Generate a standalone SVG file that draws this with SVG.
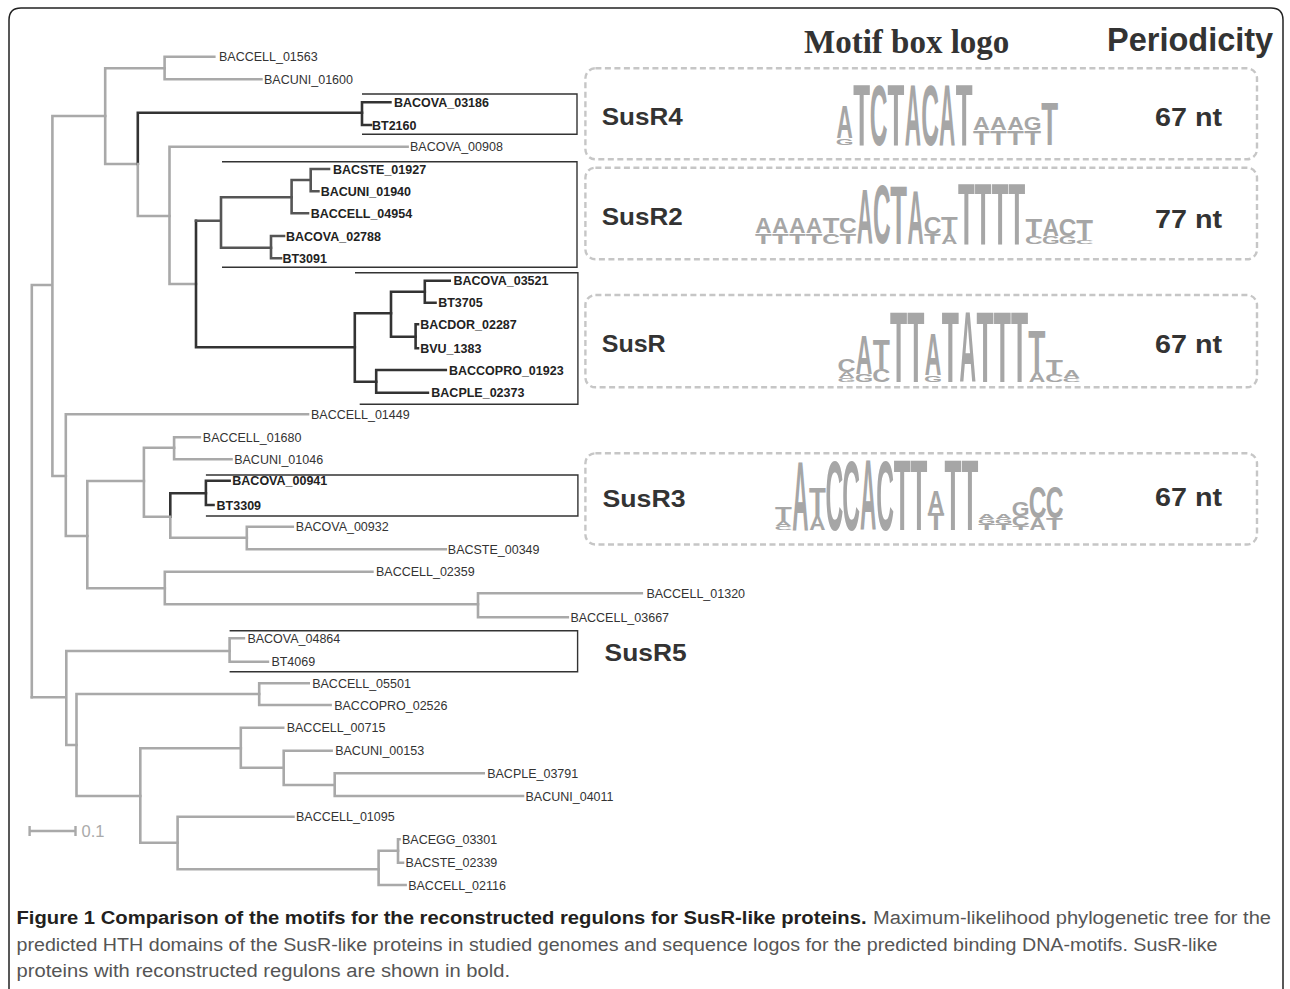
<svg xmlns="http://www.w3.org/2000/svg" width="1290" height="989" viewBox="0 0 1290 989">
<style>
.br{fill:none;stroke:#a9a9a9;stroke-width:2.6;stroke-linecap:square}
.dk{fill:none;stroke:#333;stroke-width:2.6;stroke-linecap:square}
.md{fill:none;stroke:#555;stroke-width:2.6;stroke-linecap:square}
.lf{font-family:"Liberation Sans",Arial,sans-serif;font-size:12.5px;fill:#333}
.lb{font-family:"Liberation Sans",Arial,sans-serif;font-size:12.5px;font-weight:bold;fill:#222}
.box{fill:none;stroke:#333;stroke-width:1.4}
.dash{fill:none;stroke:#c6c6c6;stroke-width:2.4;stroke-dasharray:6 3.5}
.rl{font-family:"Liberation Sans",Arial,sans-serif;font-size:24.5px;font-weight:bold;fill:#333}
.nt{font-family:"Liberation Sans",Arial,sans-serif;font-size:26px;font-weight:bold;fill:#333}
.lg{font-family:"Liberation Sans",Arial,sans-serif;font-size:100px;font-weight:bold;fill:#a6a6a6;text-anchor:middle}
.cap{font-family:"Liberation Sans",Arial,sans-serif;font-size:18px}
</style>
<rect width="1290" height="989" fill="#fff"/>
<path d="M9,1000 V20 Q9,8 21,8 H1271 Q1283,8 1283,20 V1000" fill="none" stroke="#222" stroke-width="1.5"/>

<g id="header">
<text x="804" y="53" font-family="'Liberation Serif','Times New Roman',serif" font-size="33" font-weight="bold" fill="#333">Motif box logo</text>
<text x="1107" y="51" font-family="'Liberation Sans',Arial,sans-serif" font-size="32.5" font-weight="bold" fill="#333">Periodicity</text>
</g>

<g id="connectors">
<path class="br" d="M31.8,285 V697.3 M31.8,285 H52.4 M52.4,116 V476 M52.4,116 H105.2 M52.4,476 H65.8"/>
<path class="br" d="M105.2,68.3 V164 M105.2,68.3 H164.6 M105.2,164 H137.8"/>
<path class="br" d="M164.6,56.7 V79.3 M164.6,56.7 H214.3 M164.6,79.3 H261.4"/>
<path class="dk" d="M137.8,164 V112.7 H362"/>
<path class="br" d="M137.8,164 V216 H169.5"/>
<path class="dk" d="M362,102.3 V125 M362,102.3 H390.4 M362,125 H371"/>
<path class="br" d="M169.5,146.7 V284 M169.5,146.7 H407.6 M169.5,284 H196"/>
<path class="dk" d="M196,220.7 V347.3 M196,347.3 H354.8"/>
<path class="md" d="M196,220.7 H221 M221,197.3 V247.7 M221,197.3 H291.6 M221,247.7 H271"/>
<path class="md" d="M291.6,180 V213.3 M291.6,180 H310.7 M291.6,213.3 H308"/>
<path class="md" d="M310.7,169 V191.3 M310.7,169 H329 M310.7,191.3 H318.4"/>
<path class="md" d="M271,236 V258.3 M271,236 H284 M271,258.3 H281"/>
<path class="dk" d="M354.8,313.3 V381.7 M354.8,313.3 H391 M354.8,381.7 H376.2"/>
<path class="dk" d="M391,291.7 V336.7 M391,291.7 H424.8 M391,336.7 H415.6"/>
<path class="dk" d="M424.8,280.7 V302.7 M424.8,280.7 H449.7 M424.8,302.7 H435.5"/>
<path class="dk" d="M415.6,324.3 V348.3 M415.6,324.3 H418 M415.6,348.3 H418"/>
<path class="dk" d="M376.2,370 V392.7 M376.2,370 H445.8 M376.2,392.7 H427.9"/>
<path class="br" d="M65.8,414.3 V536 M65.8,414.3 H308 M65.8,536 H87.3"/>
<path class="br" d="M87.3,481 V588.3 M87.3,481 H143.9 M87.3,588.3 H164.8"/>
<path class="br" d="M143.9,447.7 V516.7 M143.9,447.7 H174.1 M143.9,516.7 H170.3"/>
<path class="br" d="M174.1,437.3 V459.3 M174.1,437.3 H199.8 M174.1,459.3 H231.5"/>
<path class="dk" d="M170.3,516.7 V493.3 H205.9"/>
<path class="br" d="M170.3,516.7 V537.7 H246.8"/>
<path class="dk" d="M205.9,480.7 V505 M205.9,480.7 H229.6 M205.9,505 H213.5"/>
<path class="br" d="M246.8,526.7 V549.3 M246.8,526.7 H292.8 M246.8,549.3 H445.8"/>
<path class="br" d="M164.8,571.7 V604.3 M164.8,571.7 H372.4 M164.8,604.3 H478"/>
<path class="br" d="M478,593.3 V617.3 M478,593.3 H641.8 M478,617.3 H567.8"/>
<path class="br" d="M31.8,697.3 H66.3 M66.3,651 V745 M66.3,651 H229.6 M66.3,745 H76.5"/>
<path class="br" d="M229.6,638.3 V661.7 M229.6,638.3 H243.9 M229.6,661.7 H267.9"/>
<path class="br" d="M76.5,694 V796 M76.5,694 H259.2 M76.5,796 H140.3"/>
<path class="br" d="M259.2,683.3 V705 M259.2,683.3 H308.7 M259.2,705 H330.6"/>
<path class="br" d="M140.3,748.3 V842.7 M140.3,748.3 H240.8 M140.3,842.7 H177.6"/>
<path class="br" d="M240.8,727.7 V767.7 M240.8,727.7 H283.2 M240.8,767.7 H283.7"/>
<path class="br" d="M283.7,750.7 V785 M283.7,750.7 H331.6 M283.7,785 H334.7"/>
<path class="br" d="M334.7,773.3 V796 M334.7,773.3 H483.7 M334.7,796 H523"/>
<path class="br" d="M177.6,816.7 V869.3 M177.6,816.7 H293.4 M177.6,869.3 H378.6"/>
<path class="br" d="M378.6,850.7 V885 M378.6,850.7 H398 M378.6,885 H405.6"/>
<path class="br" d="M398,839.3 V862.7 M398,839.3 H399.5 M398,862.7 H403"/>
</g>

<g id="scale-bar">
<path d="M29.6,831 H75.5 M29.6,826 V836 M75.5,826 V836" fill="none" stroke="#a9a9a9" stroke-width="2.4"/>
<text x="81.6" y="837" font-family="'Liberation Sans',Arial,sans-serif" font-size="16.5" fill="#aaa">0.1</text>
</g>

<g id="leaves">
<g id="n-BACCELL_01563"><text class="lf" x="219" y="61.2">BACCELL_01563</text></g>
<g id="n-BACUNI_01600"><text class="lf" x="264" y="83.8">BACUNI_01600</text></g>
<g id="n-BACOVA_03186"><text class="lb" x="394" y="106.8">BACOVA_03186</text></g>
<g id="n-BT2160"><text class="lb" x="372" y="129.5">BT2160</text></g>
<g id="n-BACOVA_00908"><text class="lf" x="410" y="151.2">BACOVA_00908</text></g>
<g id="n-BACSTE_01927"><text class="lb" x="333" y="173.5">BACSTE_01927</text></g>
<g id="n-BACUNI_01940"><text class="lb" x="320.7" y="195.8">BACUNI_01940</text></g>
<g id="n-BACCELL_04954"><text class="lb" x="310.7" y="217.8">BACCELL_04954</text></g>
<g id="n-BACOVA_02788"><text class="lb" x="286" y="240.5">BACOVA_02788</text></g>
<g id="n-BT3091"><text class="lb" x="282.4" y="262.8">BT3091</text></g>
<g id="n-BACOVA_03521"><text class="lb" x="453.5" y="285.2">BACOVA_03521</text></g>
<g id="n-BT3705"><text class="lb" x="438.2" y="307.2">BT3705</text></g>
<g id="n-BACDOR_02287"><text class="lb" x="420.2" y="328.8">BACDOR_02287</text></g>
<g id="n-BVU_1383"><text class="lb" x="420.2" y="352.8">BVU_1383</text></g>
<g id="n-BACCOPRO_01923"><text class="lb" x="449" y="374.5">BACCOPRO_01923</text></g>
<g id="n-BACPLE_02373"><text class="lb" x="431.3" y="397.2">BACPLE_02373</text></g>
<g id="n-BACCELL_01449"><text class="lf" x="311" y="418.8">BACCELL_01449</text></g>
<g id="n-BACCELL_01680"><text class="lf" x="202.8" y="441.8">BACCELL_01680</text></g>
<g id="n-BACUNI_01046"><text class="lf" x="234.2" y="463.8">BACUNI_01046</text></g>
<g id="n-BACOVA_00941"><text class="lb" x="232.3" y="485.2">BACOVA_00941</text></g>
<g id="n-BT3309"><text class="lb" x="216.6" y="509.5">BT3309</text></g>
<g id="n-BACOVA_00932"><text class="lf" x="295.8" y="531.2">BACOVA_00932</text></g>
<g id="n-BACSTE_00349"><text class="lf" x="447.8" y="553.8">BACSTE_00349</text></g>
<g id="n-BACCELL_02359"><text class="lf" x="376" y="576.2">BACCELL_02359</text></g>
<g id="n-BACCELL_01320"><text class="lf" x="646.4" y="597.8">BACCELL_01320</text></g>
<g id="n-BACCELL_03667"><text class="lf" x="570.4" y="621.8">BACCELL_03667</text></g>
<g id="n-BACOVA_04864"><text class="lf" x="247.4" y="642.8">BACOVA_04864</text></g>
<g id="n-BT4069"><text class="lf" x="271.4" y="666.2">BT4069</text></g>
<g id="n-BACCELL_05501"><text class="lf" x="312.2" y="687.8">BACCELL_05501</text></g>
<g id="n-BACCOPRO_02526"><text class="lf" x="334.2" y="709.5">BACCOPRO_02526</text></g>
<g id="n-BACCELL_00715"><text class="lf" x="286.7" y="732.2">BACCELL_00715</text></g>
<g id="n-BACUNI_00153"><text class="lf" x="335.2" y="755.2">BACUNI_00153</text></g>
<g id="n-BACPLE_03791"><text class="lf" x="487.2" y="777.8">BACPLE_03791</text></g>
<g id="n-BACUNI_04011"><text class="lf" x="525.5" y="800.5">BACUNI_04011</text></g>
<g id="n-BACCELL_01095"><text class="lf" x="296" y="821.2">BACCELL_01095</text></g>
<g id="n-BACEGG_03301"><text class="lf" x="402" y="843.8">BACEGG_03301</text></g>
<g id="n-BACSTE_02339"><text class="lf" x="405.6" y="867.2">BACSTE_02339</text></g>
<g id="n-BACCELL_02116"><text class="lf" x="408.2" y="889.5">BACCELL_02116</text></g>
</g>

<g id="regulon-boxes">
<path class="box" d="M362,94 H577 V134.3 H362"/>
<path class="box" d="M222,161.7 H577 V267.3 H222"/>
<path class="box" d="M355,272.7 H577.9 V404.3 H359.7"/>
<path class="box" d="M205.9,475 H577.9 V516 H205.9"/>
<path class="box" d="M229.6,630.7 H577.6 V671.7 H229.6"/>
</g>

<g id="SusR4">
<rect class="dash" x="585.4" y="68.3" width="671.6" height="91" rx="10"/>
<text class="rl" x="601.7" y="125" textLength="81" lengthAdjust="spacingAndGlyphs">SusR4</text>
<text class="nt" x="1155" y="126" textLength="67" lengthAdjust="spacingAndGlyphs">67 nt</text>
<text class="lg" transform="translate(844.55,145) scale(.2286,.0838)">G</text>
<text class="lg" transform="translate(844.55,138) scale(.2254,.4609)">A</text>
<text class="lg" transform="translate(861.65,145) scale(.2759,.8799)">T</text>
<text class="lg" transform="translate(878.75,144.5) scale(.246,.86)">C</text>
<text class="lg" transform="translate(895.85,145) scale(.2759,.8799)">T</text>
<text class="lg" transform="translate(912.95,145) scale(.2254,.8799)">A</text>
<text class="lg" transform="translate(930.05,144.5) scale(.246,.86)">C</text>
<text class="lg" transform="translate(947.15,145) scale(.2254,.8799)">A</text>
<text class="lg" transform="translate(964.25,145) scale(.2759,.8799)">T</text>
<text class="lg" transform="translate(981.35,145) scale(.2759,.2095)">T</text>
<text class="lg" transform="translate(981.35,130) scale(.2254,.176)">A</text>
<text class="lg" transform="translate(998.45,145) scale(.2759,.2095)">T</text>
<text class="lg" transform="translate(998.45,130) scale(.2254,.176)">A</text>
<text class="lg" transform="translate(1015.55,145) scale(.2759,.2095)">T</text>
<text class="lg" transform="translate(1015.55,130) scale(.2254,.176)">A</text>
<text class="lg" transform="translate(1032.65,145) scale(.2759,.2095)">T</text>
<text class="lg" transform="translate(1032.65,130) scale(.2286,.176)">G</text>
<text class="lg" transform="translate(1049.75,145) scale(.2759,.6145)">T</text>
</g>

<g id="SusR2">
<rect class="dash" x="585.4" y="167.7" width="671.6" height="91.6" rx="10"/>
<text class="rl" x="601.7" y="225" textLength="81" lengthAdjust="spacingAndGlyphs">SusR2</text>
<text class="nt" x="1155" y="228" textLength="67" lengthAdjust="spacingAndGlyphs">77 nt</text>
<text class="lg" transform="translate(763.45,243.5) scale(.274,.1536)">T</text>
<text class="lg" transform="translate(763.45,232.5) scale(.224,.2235)">A</text>
<text class="lg" transform="translate(780.35,243.5) scale(.274,.1536)">T</text>
<text class="lg" transform="translate(780.35,232.5) scale(.224,.2235)">A</text>
<text class="lg" transform="translate(797.25,243.5) scale(.274,.1536)">T</text>
<text class="lg" transform="translate(797.25,232.5) scale(.224,.2235)">A</text>
<text class="lg" transform="translate(814.15,243.5) scale(.274,.1536)">T</text>
<text class="lg" transform="translate(814.15,232.5) scale(.224,.2235)">A</text>
<text class="lg" transform="translate(831.05,243.5) scale(.2446,.1536)">C</text>
<text class="lg" transform="translate(831.05,232.5) scale(.274,.2235)">T</text>
<text class="lg" transform="translate(847.95,243.5) scale(.274,.1536)">T</text>
<text class="lg" transform="translate(847.95,232.5) scale(.2446,.2235)">C</text>
<text class="lg" transform="translate(864.85,243.5) scale(.224,.782)">A</text>
<text class="lg" transform="translate(881.75,243) scale(.2446,.84)">C</text>
<text class="lg" transform="translate(898.65,243.5) scale(.274,.838)">T</text>
<text class="lg" transform="translate(915.55,243.5) scale(.224,.768)">A</text>
<text class="lg" transform="translate(932.45,243.5) scale(.274,.14)">T</text>
<text class="lg" transform="translate(932.45,233.5) scale(.2446,.237)">C</text>
<text class="lg" transform="translate(949.35,243.5) scale(.224,.14)">A</text>
<text class="lg" transform="translate(949.35,233.5) scale(.274,.237)">T</text>
<text class="lg" transform="translate(966.25,243.5) scale(.274,.866)">T</text>
<text class="lg" transform="translate(983.15,243.5) scale(.274,.866)">T</text>
<text class="lg" transform="translate(1000.05,243.5) scale(.274,.866)">T</text>
<text class="lg" transform="translate(1016.95,243.5) scale(.274,.866)">T</text>
<text class="lg" transform="translate(1033.85,243.5) scale(.2446,.112)">C</text>
<text class="lg" transform="translate(1033.85,235.5) scale(.274,.237)">T</text>
<text class="lg" transform="translate(1050.75,243.5) scale(.227,.112)">G</text>
<text class="lg" transform="translate(1050.75,235.5) scale(.224,.237)">A</text>
<text class="lg" transform="translate(1067.65,243.5) scale(.227,.112)">G</text>
<text class="lg" transform="translate(1067.65,235.5) scale(.2446,.237)">C</text>
<text class="lg" transform="translate(1084.55,243.5) scale(.2446,.056)">C</text>
<text class="lg" transform="translate(1084.55,239.5) scale(.274,.293)">T</text>
</g>

<g id="SusR">
<rect class="dash" x="585.4" y="295" width="671.6" height="92.3" rx="10"/>
<text class="rl" x="601.7" y="352" textLength="64" lengthAdjust="spacingAndGlyphs">SusR</text>
<text class="nt" x="1155" y="353" textLength="67" lengthAdjust="spacingAndGlyphs">67 nt</text>
<text class="lg" transform="translate(846.65,382) scale(.2329,.0559)">G</text>
<text class="lg" transform="translate(846.65,378) scale(.2296,.0838)">A</text>
<text class="lg" transform="translate(846.65,372) scale(.2508,.1816)">C</text>
<text class="lg" transform="translate(863.95,382) scale(.2329,.1117)">G</text>
<text class="lg" transform="translate(863.95,374) scale(.2296,.5587)">A</text>
<text class="lg" transform="translate(881.25,382) scale(.2508,.1816)">C</text>
<text class="lg" transform="translate(881.25,369) scale(.281,.433)">T</text>
<text class="lg" transform="translate(898.55,382) scale(.281,1.0056)">T</text>
<text class="lg" transform="translate(915.85,382) scale(.281,1.0056)">T</text>
<text class="lg" transform="translate(933.15,382) scale(.2329,.0978)">G</text>
<text class="lg" transform="translate(933.15,375) scale(.2296,.5866)">A</text>
<text class="lg" transform="translate(950.45,382) scale(.281,1.0056)">T</text>
<text class="lg" transform="translate(967.75,382) scale(.2296,1.0056)">A</text>
<text class="lg" transform="translate(985.05,382) scale(.281,1.0056)">T</text>
<text class="lg" transform="translate(1002.35,382) scale(.281,1.0056)">T</text>
<text class="lg" transform="translate(1019.65,382) scale(.281,1.0056)">T</text>
<text class="lg" transform="translate(1036.95,382) scale(.2296,.1397)">A</text>
<text class="lg" transform="translate(1036.95,372) scale(.281,.5866)">T</text>
<text class="lg" transform="translate(1054.25,382) scale(.2508,.1117)">C</text>
<text class="lg" transform="translate(1054.25,374) scale(.281,.2095)">T</text>
<text class="lg" transform="translate(1071.55,382) scale(.2508,.0559)">C</text>
<text class="lg" transform="translate(1071.55,378) scale(.2296,.1117)">A</text>
</g>

<g id="SusR3">
<rect class="dash" x="585.4" y="453.3" width="671.6" height="91.2" rx="10"/>
<text class="rl" x="602.5" y="507" textLength="83" lengthAdjust="spacingAndGlyphs">SusR3</text>
<text class="nt" x="1155" y="506" textLength="67" lengthAdjust="spacingAndGlyphs">67 nt</text>
<text class="lg" transform="translate(783.47,530) scale(.246,.0559)">C</text>
<text class="lg" transform="translate(783.47,526) scale(.2254,.0698)">A</text>
<text class="lg" transform="translate(783.47,521) scale(.2759,.2095)">T</text>
<text class="lg" transform="translate(800.41,530) scale(.2254,.9777)">A</text>
<text class="lg" transform="translate(817.35,530) scale(.2254,.1955)">A</text>
<text class="lg" transform="translate(817.35,516) scale(.2759,.405)">T</text>
<text class="lg" transform="translate(834.29,529.5) scale(.246,.99)">C</text>
<text class="lg" transform="translate(851.23,529.5) scale(.246,.99)">C</text>
<text class="lg" transform="translate(868.17,530) scale(.2254,1.0056)">A</text>
<text class="lg" transform="translate(885.11,529.5) scale(.246,.99)">C</text>
<text class="lg" transform="translate(902.05,530) scale(.2759,1.0056)">T</text>
<text class="lg" transform="translate(918.99,530) scale(.2759,1.0056)">T</text>
<text class="lg" transform="translate(935.93,530) scale(.2759,.2374)">T</text>
<text class="lg" transform="translate(935.93,513) scale(.2254,.3073)">A</text>
<text class="lg" transform="translate(952.87,530) scale(.2759,1.0056)">T</text>
<text class="lg" transform="translate(969.81,530) scale(.2759,1.0056)">T</text>
<text class="lg" transform="translate(986.75,530) scale(.2759,.0838)">T</text>
<text class="lg" transform="translate(986.75,524) scale(.2286,.0698)">G</text>
<text class="lg" transform="translate(986.75,519) scale(.2254,.0698)">A</text>
<text class="lg" transform="translate(1003.69,530) scale(.2759,.0838)">T</text>
<text class="lg" transform="translate(1003.69,524) scale(.2286,.0698)">G</text>
<text class="lg" transform="translate(1003.69,519) scale(.2254,.0698)">A</text>
<text class="lg" transform="translate(1020.63,530) scale(.2759,.0559)">T</text>
<text class="lg" transform="translate(1020.63,526) scale(.246,.1397)">C</text>
<text class="lg" transform="translate(1020.63,516) scale(.2286,.1955)">G</text>
<text class="lg" transform="translate(1037.57,530) scale(.2254,.1676)">A</text>
<text class="lg" transform="translate(1037.57,518) scale(.246,.4469)">C</text>
<text class="lg" transform="translate(1054.51,530) scale(.2759,.1676)">T</text>
<text class="lg" transform="translate(1054.51,518) scale(.246,.4469)">C</text>
</g>

<g id="SusR5">
<text class="rl" x="604.6" y="660.5" textLength="82" lengthAdjust="spacingAndGlyphs">SusR5</text>
</g>

<g id="caption">
<text class="cap" x="16.5" y="924" font-weight="bold" fill="#231f20" textLength="850" lengthAdjust="spacingAndGlyphs">Figure 1 Comparison of the motifs for the reconstructed regulons for SusR-like proteins.</text>
<text class="cap" x="873" y="924" fill="#555" textLength="398" lengthAdjust="spacingAndGlyphs">Maximum-likelihood phylogenetic tree for the</text>
<text class="cap" x="16.5" y="951" fill="#555" textLength="1201" lengthAdjust="spacingAndGlyphs">predicted HTH domains of the SusR-like proteins in studied genomes and sequence logos for the predicted binding DNA-motifs. SusR-like</text>
<text class="cap" x="16.5" y="977" fill="#555" textLength="493.5" lengthAdjust="spacingAndGlyphs">proteins with reconstructed regulons are shown in bold.</text>
</g>
</svg>
